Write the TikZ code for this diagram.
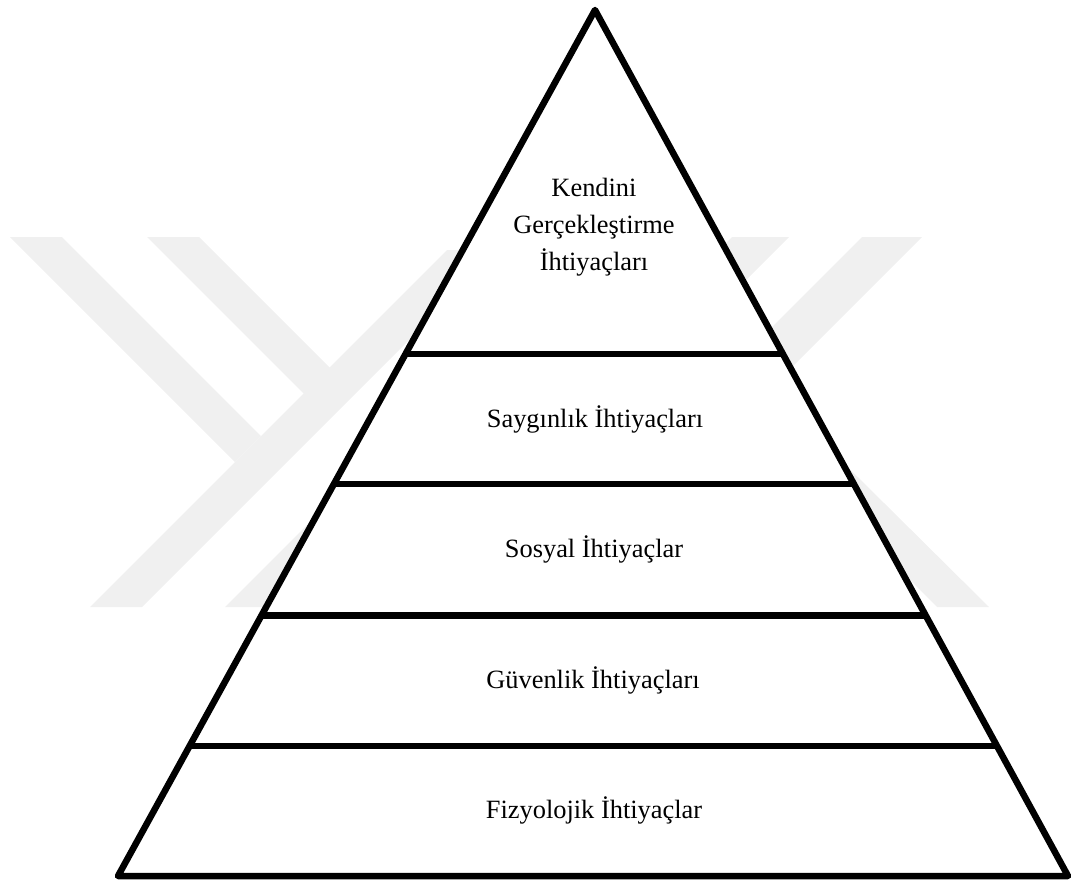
\documentclass[tikz,border=0pt]{standalone}
\usepackage{fontspec}
\setmainfont{Liberation Serif}
\usetikzlibrary{calc}
\definecolor{wmgray}{gray}{0.94}

\begin{document}
\begin{tikzpicture}[x=1pt, y=-1pt,
  tier/.style={font=\fontsize{26.4}{37}\selectfont, anchor=base, inner sep=0pt},
  wm/.style={fill=wmgray, draw=none},
  edge/.style={line width=6.5pt, line join=round}]
\useasboundingbox (0, 0) rectangle (1072, 883);

\fill[wm] (10, 237)--(62, 237)--(261, 436)--(235, 462)--cycle;
\fill[wm] (147, 237)--(199, 237)--(330, 368)--(304, 394)--cycle;
\fill[wm] (90, 607)--(142, 607)--(499, 250)--(447, 250)--cycle;
\fill[wm] (225, 607)--(277, 607)--(522, 362)--(470, 362)--cycle;
\fill[wm] (732, 237)--(789, 237)--(626, 400)--(569, 400)--cycle;
\fill[wm] (862, 237)--(922, 237)--(679, 480)--(619, 480)--cycle;
\fill[wm] (937, 607)--(989, 607)--(780, 400)--(730, 400)--cycle;

\coordinate (apex) at (595, 10);
\coordinate (bl) at (118, 876);
\coordinate (br) at (1068, 876);
\filldraw[edge, fill=white] (apex)--(bl)--(br)--cycle;

\draw[edge] ($(apex)!0.3972!(bl)$)--($(apex)!0.3972!(br)$);
\draw[edge] ($(apex)!0.5473!(bl)$)--($(apex)!0.5473!(br)$);
\draw[edge] ($(apex)!0.6992!(bl)$)--($(apex)!0.6992!(br)$);
\draw[edge] ($(apex)!0.8499!(bl)$)--($(apex)!0.8499!(br)$);

\node (k) at (594, 270) [tier, align=center] {Kendini\\Gerçekleştirme\\İhtiyaçları};
\node (s) at (595, 427) [tier] {Saygınlık İhtiyaçları};
\node (so) at (594, 557) [tier] {Sosyal İhtiyaçlar};
\node (g) at (593, 688) [tier] {Güvenlik İhtiyaçları};
\node (f) at (594, 818) [tier] {Fizyolojik İhtiyaçlar};
\end{tikzpicture}
\end{document}
